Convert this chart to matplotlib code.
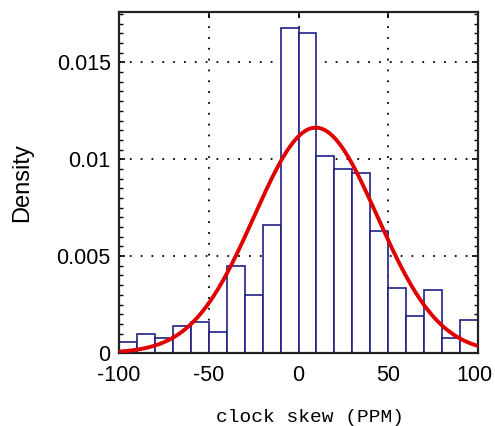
import numpy as np
import matplotlib
matplotlib.use("Agg")
import matplotlib.pyplot as plt
import matplotlib.transforms as mtransforms
from matplotlib.ticker import MultipleLocator

# Data
bin_edges = [-100, -90, -80, -70, -60, -50, -40, -30, -20, -10, 0,
             10, 20, 30, 40, 50, 60, 70, 80, 90, 100]
densities = [0.00057, 0.00097, 0.00079, 0.0014, 0.0016, 0.0011, 0.0045,
             0.0030, 0.0066, 0.01677, 0.0165, 0.01016, 0.0095, 0.0093,
             0.0063, 0.00338, 0.0019, 0.00326, 0.00079, 0.0017]
fit_mu = 9.6
fit_sigma = 34.3
xticks = [-100, -50, 0, 50, 100]
yticks = [0, 0.005, 0.01, 0.015]
ytick_labels = ["0", "0.005", "0.01", "0.015"]

fig = plt.figure(figsize=(4.95, 4.26), dpi=100)
ax = fig.add_axes([0.2404, 0.1714, 0.7253, 0.8004])

edges = np.array(bin_edges, dtype=float)
ax.bar(edges[:-1], densities, width=np.diff(edges), align="edge",
       facecolor="white", edgecolor="#1f1f85", linewidth=1.2, zorder=2)

xs = np.linspace(-100, 100, 400)
pdf = np.exp(-0.5 * ((xs - fit_mu) / fit_sigma) ** 2) / (fit_sigma * np.sqrt(2 * np.pi))
ax.plot(xs, pdf, color="#e00000", linewidth=2.8, zorder=3)

ax.set_xlim(-100, 100)
ax.set_ylim(0, 0.0176)
ax.set_xticks(xticks)
ax.set_xticklabels([str(t) for t in xticks])
ax.set_yticks(yticks)
ax.set_yticklabels(ytick_labels)
ax.yaxis.set_minor_locator(MultipleLocator(0.0005))

ax.grid(True, which="major", color="black", linestyle=(0, (1, 5)), linewidth=1.3, zorder=1)
ax.set_axisbelow(True)

ax.tick_params(which="both", direction="in", top=True, right=True,
               labelsize=15.5, colors="black")
ax.tick_params(axis="y", pad=6)
ax.tick_params(axis="x", pad=9)
ax.tick_params(which="major", length=4, width=1.2)
ax.tick_params(which="minor", length=3, width=1.0)
for lbl in ax.get_xticklabels() + ax.get_yticklabels():
    lbl.set_fontfamily("Liberation Sans")

# nudge the last x tick label a little so it stays inside the figure
last = ax.get_xticklabels()[-1]
last.set_transform(last.get_transform() +
                   mtransforms.ScaledTranslation(-4 / 100, 0, fig.dpi_scale_trans))

for s in ax.spines.values():
    s.set_linewidth(1.6)
    s.set_color("#222222")

ax.set_ylabel("Density", fontsize=17, family="Liberation Sans")
ax.yaxis.set_label_coords(-0.24, 0.5)
ax.set_xlabel("clock skew (PPM)", fontsize=14, family="Liberation Mono")
ax.xaxis.set_label_coords(0.532, -0.165)

fig.savefig("out.png", dpi=100)
